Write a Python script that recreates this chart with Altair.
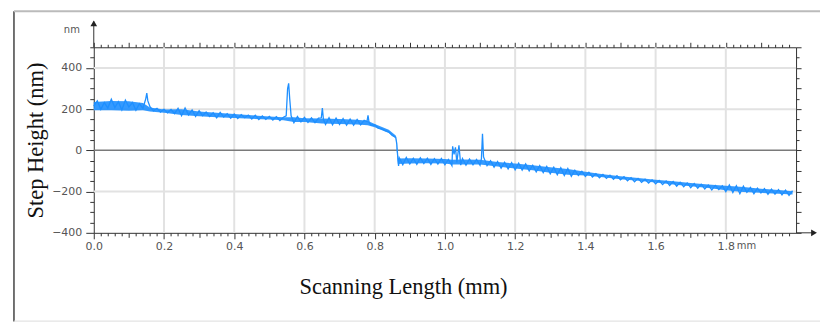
import altair as alt
import pandas as pd

# ---- profile ----
scan_mm = [
    0.00, 0.01, 0.02, 0.03, 0.04, 0.05, 0.06, 0.07, 0.08, 0.09,
    0.10, 0.11, 0.12, 0.13, 0.14, 0.148, 0.151, 0.154, 0.16, 0.17,
    0.18, 0.19, 0.20, 0.21, 0.22, 0.23, 0.24, 0.25, 0.26, 0.27,
    0.28, 0.29, 0.30, 0.31, 0.32, 0.33, 0.34, 0.35, 0.36, 0.37,
    0.38, 0.39, 0.40, 0.41, 0.42, 0.43, 0.44, 0.45, 0.46, 0.47,
    0.48, 0.49, 0.50, 0.51, 0.52, 0.53, 0.54, 0.548, 0.552, 0.555,
    0.558, 0.562, 0.57, 0.58, 0.59, 0.60, 0.61, 0.62, 0.63, 0.64,
    0.648, 0.651, 0.654, 0.66, 0.67, 0.68, 0.69, 0.70, 0.71, 0.72,
    0.73, 0.74, 0.75, 0.76, 0.77, 0.778, 0.781, 0.784, 0.79, 0.80,
    0.81, 0.82, 0.83, 0.84, 0.85, 0.86, 0.863, 0.866, 0.868, 0.87,
    0.88, 0.89, 0.90, 0.91, 0.92, 0.93, 0.94, 0.95, 0.96, 0.97,
    0.98, 0.99, 1.00, 1.01, 1.02, 1.022, 1.026, 1.03, 1.034, 1.04,
    1.045, 1.05, 1.06, 1.07, 1.08, 1.09, 1.10, 1.104, 1.107, 1.11,
    1.12, 1.13, 1.14, 1.15, 1.16, 1.17, 1.18, 1.19, 1.20, 1.21,
    1.22, 1.23, 1.24, 1.25, 1.26, 1.27, 1.28, 1.29, 1.30, 1.31,
    1.32, 1.33, 1.34, 1.35, 1.36, 1.37, 1.38, 1.39, 1.40, 1.41,
    1.42, 1.43, 1.44, 1.45, 1.46, 1.47, 1.48, 1.49, 1.50, 1.51,
    1.52, 1.53, 1.54, 1.55, 1.56, 1.57, 1.58, 1.59, 1.60, 1.61,
    1.62, 1.63, 1.64, 1.65, 1.66, 1.67, 1.68, 1.69, 1.70, 1.71,
    1.72, 1.73, 1.74, 1.75, 1.76, 1.77, 1.78, 1.79, 1.80, 1.81,
    1.82, 1.83, 1.84, 1.85, 1.86, 1.87, 1.88, 1.89, 1.90, 1.91,
    1.92, 1.93, 1.94, 1.95, 1.96, 1.97, 1.98, 1.99,
]
step_nm = [
    215, 240, 198, 232, 205, 248, 208, 236, 196, 244,
    210, 232, 194, 226, 204, 250, 278, 240, 212, 192,
    204, 186, 200, 182, 198, 178, 204, 168, 206, 172,
    196, 164, 192, 168, 186, 164, 182, 158, 184, 162,
    178, 156, 176, 155, 173, 158, 171, 152, 170, 150,
    167, 150, 165, 147, 163, 145, 161, 168, 300, 325,
    250, 168, 134, 164, 138, 160, 136, 158, 134, 156,
    158, 205, 150, 126, 158, 124, 156, 126, 154, 122,
    152, 122, 150, 124, 146, 140, 170, 135, 122, 124,
    108, 104, 96, 90, 72, 64, 30, -40, -75, -36,
    -70, -34, -66, -38, -68, -36, -64, -38, -68, -40,
    -66, -40, -70, -44, -74, 20, -20, 15, -58, 25,
    -72, -40, -72, -42, -70, -44, -72, -40, 80, -32,
    -74, -50, -82, -54, -86, -58, -90, -60, -94, -62,
    -96, -66, -100, -72, -104, -74, -108, -78, -114, -82,
    -118, -84, -122, -88, -126, -96, -122, -102, -126, -106,
    -129, -113, -133, -117, -136, -120, -140, -123, -143, -128,
    -148, -132, -152, -136, -155, -140, -159, -143, -162, -146,
    -166, -148, -170, -151, -174, -155, -176, -158, -181, -161,
    -184, -164, -187, -168, -192, -170, -190, -172, -200, -168,
    -205, -172, -210, -174, -204, -180, -210, -183, -207, -186,
    -213, -188, -212, -190, -216, -193, -218, -196,
]

# noise envelope of the trace (lower / upper edge of the blue band)
band_mm = [0.00, 0.05, 0.10, 0.14, 0.16, 0.20, 0.25, 0.30, 0.35, 0.40,
           0.45, 0.50, 0.54, 0.57, 0.60, 0.65, 0.70, 0.75, 0.78, 0.80,
           0.84, 0.86, 0.866, 0.90, 0.95, 1.00, 1.02, 1.05, 1.10, 1.15,
           1.20, 1.25, 1.30, 1.35, 1.40, 1.45, 1.50, 1.55, 1.60, 1.65,
           1.70, 1.75, 1.80, 1.85, 1.90, 1.95, 1.99]
band_lo = [195, 195, 192, 195, 188, 183, 172, 165, 160, 157,
           153, 150, 146, 138, 138, 130, 128, 126, 122, 112,
           84, 58, -66, -64, -62, -64, -68, -68, -68, -78,
           -88, -96, -108, -118, -122, -130, -140, -148, -156, -166,
           -174, -182, -194, -202, -206, -210, -214]
band_hi = [235, 240, 238, 230, 208, 198, 200, 188, 182, 176,
           170, 164, 160, 160, 156, 154, 152, 148, 144, 128,
           100, 72, -40, -38, -40, -42, -46, -44, -46, -56,
           -64, -72, -82, -90, -104, -116, -126, -134, -142, -150,
           -158, -166, -172, -178, -186, -192, -198]

x_domain = [0.0, 2.0]
y_domain = [-400, 500]
grid_x = [0.2, 0.4, 0.6, 0.8, 1.0, 1.2, 1.4, 1.6, 1.8]
grid_y = [-200, 200, 400]
zero_y = [0]
x_tick_values = [round(i * 0.02, 2) for i in range(100)]
y_tick_values = list(range(-400, 501, 50))

W, H = 704, 186
LABEL_FONT = "DejaVu Sans"
TITLE_FONT = "Liberation Serif"
AX = "#333333"
BLUE = "#1e8fff"

df = pd.DataFrame({"x": scan_mm, "y": step_nm})
band = pd.DataFrame({"bx": band_mm, "lo": band_lo, "hi": band_hi})

xs = alt.Scale(domain=x_domain, nice=False, zero=False)
ys = alt.Scale(domain=y_domain, nice=False, zero=False)

x_axis_bottom = alt.Axis(
    orient="bottom", values=x_tick_values, grid=False,
    labelExpr="round(datum.value*50) % 10 == 0 ? format(datum.value, '.1f') : ''",
    labelOverlap=False, labelFlush=False, labelFont=LABEL_FONT, labelFontSize=11,
    labelColor="#555555", labelPadding=2,
    tickSize={"condition": [{"test": "round(datum.value*50) % 10 == 0", "value": 6},
                            {"test": "round(datum.value*50) % 5 == 0", "value": 4.5}],
              "value": 3},
    tickColor=AX, domainColor=AX,
    title="Scanning Length (mm)", titleFont=TITLE_FONT, titleFontSize=22.5,
    titleFontWeight="normal", titleColor="#111111",
    titleX=310, titleY=61, titleAlign="center", titleBaseline="alphabetic",
)
y_axis_left = alt.Axis(
    orient="left", values=y_tick_values, grid=False,
    labelExpr="datum.value % 200 == 0 && datum.value < 500 ? format(datum.value, 'd') : ''",
    labelOverlap=False, labelFlush=False, labelFont=LABEL_FONT, labelFontSize=11,
    labelColor="#555555", labelPadding=4,
    tickSize={"condition": {"test": "datum.value % 200 == 0", "value": 8}, "value": 4},
    tickColor=AX, domainColor=AX,
    title="Step Height (nm)", titleFont=TITLE_FONT, titleFontSize=22.5,
    titleFontWeight="normal", titleColor="#111111", titlePadding=4,
)
x_axis_top = alt.Axis(
    orient="top", values=x_tick_values, grid=False, labels=False, title=None,
    tickSize={"condition": {"test": "round(datum.value*50) % 5 == 0", "value": 5}, "value": 3},
    tickColor=AX, domainColor=AX,
)
y_axis_right = alt.Axis(
    orient="right", values=y_tick_values, grid=False, labels=False, title=None,
    tickSize={"condition": {"test": "datum.value % 100 == 0", "value": 5}, "value": 3},
    tickColor=AX, domainColor=AX,
)

gx = alt.Chart(pd.DataFrame({"x": grid_x})).mark_rule(color="#e2e2e2", strokeWidth=2).encode(
    x=alt.X("x:Q", scale=xs, axis=x_axis_bottom))
gy = alt.Chart(pd.DataFrame({"y": grid_y})).mark_rule(color="#e2e2e2", strokeWidth=2).encode(
    y=alt.Y("y:Q", scale=ys, axis=y_axis_left))
gz = alt.Chart(pd.DataFrame({"y": zero_y})).mark_rule(color="#7a7a7a", strokeWidth=1.5).encode(
    y=alt.Y("y:Q", scale=ys, axis=y_axis_left))

area = alt.Chart(band).mark_area(color=BLUE, fillOpacity=0.9, interpolate="linear").encode(
    x=alt.X("bx:Q", scale=xs, axis=x_axis_bottom),
    y=alt.Y("lo:Q", scale=ys, axis=y_axis_left, stack=None),
    y2=alt.Y2("hi"),
)

line = alt.Chart(df).mark_line(color=BLUE, strokeWidth=1.3).encode(
    x=alt.X("x:Q", scale=xs, axis=x_axis_bottom),
    y=alt.Y("y:Q", scale=ys, axis=y_axis_left),
    order="x:Q",
)

mm_text = alt.Chart(pd.DataFrame({"x": [1.8]})).mark_text(
    text="mm", align="left", baseline="top", dx=11, font=LABEL_FONT, fontSize=10,
    color="#555555").encode(x=alt.X("x:Q", scale=xs, axis=x_axis_bottom), y=alt.value(H + 8))

base = alt.layer(gx, gy, gz, area, line, mm_text)

overlay = alt.Chart(df).mark_line(opacity=0).encode(
    x=alt.X("x:Q", scale=xs, axis=x_axis_top),
    y=alt.Y("y:Q", scale=ys, axis=y_axis_right),
)

# decorations: axis arrows, unit label, figure frame
y_arrow = alt.Chart().mark_rule(color=AX, strokeWidth=1).encode(
    x=alt.value(0), y=alt.value(-26), y2=alt.value(0))
y_head = alt.Chart().mark_point(shape="triangle-up", filled=True, color="#222222",
                                size=45, opacity=1).encode(x=alt.value(0), y=alt.value(-24))
x_arrow = alt.Chart().mark_rule(color=AX, strokeWidth=1).encode(
    x=alt.value(W), x2=alt.value(W + 19), y=alt.value(H))
x_head = alt.Chart().mark_point(shape="triangle-right", filled=True, color="#222222",
                                size=45, opacity=1).encode(x=alt.value(W + 18), y=alt.value(H))
nm_text = alt.Chart().mark_text(text="nm", align="center", baseline="middle",
                                font=LABEL_FONT, fontSize=10, color="#555555").encode(
    x=alt.value(-22), y=alt.value(-17))
frame_left = alt.Chart().mark_rule(color="#444444", strokeWidth=1.5).encode(
    x=alt.value(-80), y=alt.value(-36), y2=alt.value(275))
frame_top = alt.Chart().mark_rule(color="#bbbbbb", strokeWidth=2).encode(
    x=alt.value(-80), x2=alt.value(728), y=alt.value(-36))
frame_bottom = alt.Chart().mark_rule(color="#dddddd", strokeWidth=1).encode(
    x=alt.value(-80), x2=alt.value(728), y=alt.value(274.5))

chart = alt.layer(
    base, overlay, y_arrow, y_head, x_arrow, x_head, nm_text,
    frame_left, frame_top, frame_bottom,
).resolve_scale(x="independent", y="independent").properties(
    width=W, height=H,
    padding={"left": 13, "top": 10, "right": 0, "bottom": 0},
    background="white",
).configure_view(stroke=None)

chart.save("out.html", embed_options={"renderer": "svg", "actions": False})
